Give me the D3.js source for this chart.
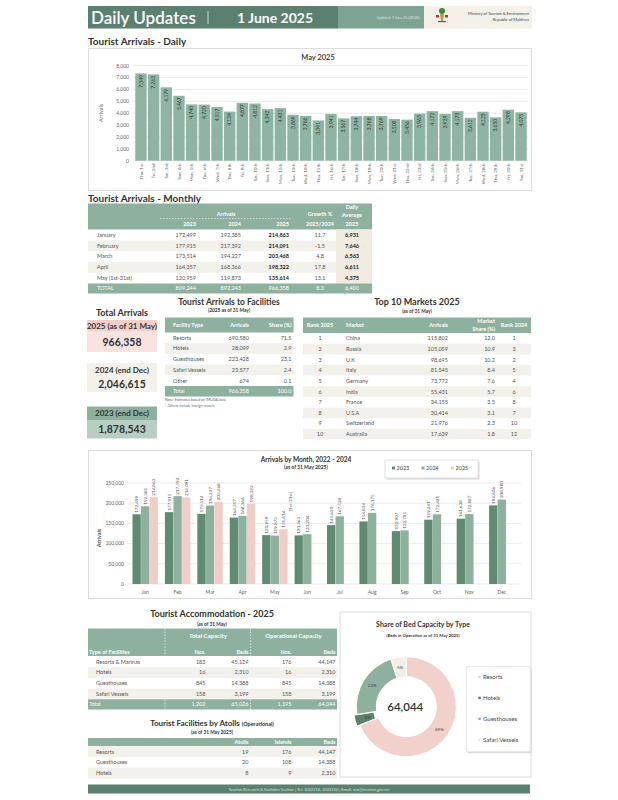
<!DOCTYPE html>
<html><head><meta charset="utf-8">
<script src="https://cdn.jsdelivr.net/npm/d3@7"></script>
<style>body{margin:0;background:#fff}svg{display:block;font-family:Lato,"Open Sans",sans-serif}</style>
</head><body><svg id="c" width="618" height="800"></svg>
<script>
// ---------------- DATA ----------------
const dailyLabels = ["Thu, 1st","Fri, 2nd","Sat, 3rd","Sun, 4th","Mon, 5th","Tue, 6th","Wed, 7th","Thu, 8th","Fri, 9th","Sat, 10th","Sun, 11th","Mon, 12th","Tue, 13th","Wed, 14th","Thu, 15th","Fri, 16th","Sat, 17th","Sun, 18th","Mon, 19th","Tue, 20th","Wed, 21st","Thu, 22nd","Fri, 23rd","Sat, 24th","Sun, 25th","Mon, 26th","Tue, 27th","Wed, 28th","Thu, 29th","Fri, 30th","Sat, 31st"];
const dailyValues = [7349,7263,6179,5467,4740,4720,4517,4134,4877,4812,4342,4431,3869,3766,3391,3941,3567,3744,3768,3769,3508,3456,3963,4172,3939,4173,3612,4123,3650,4298,4075];
const dailyTicks = [0,1000,2000,3000,4000,5000,6000,7000,8000];

const monthRows = ["January","February","March","April","May (1st-31st)"];
const mon2023 = [172499,177915,173514,164357,120959];
const mon2024 = [192385,217392,194227,168366,119873];
const mon2025 = [214863,214091,203468,198322,135614];
const monGrowth = ["11.7","-1.5","4.8","17.8","13.1"];
const monDailyAvg = [6931,7646,6563,6611,4375];
const monTotals = ["TOTAL","809,244","892,243","966,358","8.3","6,400"];

const totalBlocks = ["2025 (as of 31 May)","2024 (end Dec)","2023 (end Dec)"];
const totalValues = [966358,2046615,1878543];

const facilityTypes = ["Resorts","Hotels","Guesthouses","Safari Vessels","Other"];
const facilityArrivals = [690580,28099,223428,23577,674];
const facilityShare = ["71.5","2.9","23.1","2.4","0.1"];
const facilityTotal = ["Total","966,358","100.0"];

const marketRank2025 = [1,2,3,4,5,6,7,8,9,10];
const marketNames = ["China","Russia","U.K","Italy","Germany","India","France","U.S.A","Switzerland","Australia"];
const marketArrivals = [115802,105059,98695,81545,73772,55431,34155,30414,21976,17639];
const marketShare = ["12.0","10.9","10.2","8.4","7.6","5.7","3.5","3.1","2.3","1.8"];
const marketRank2024 = [1,3,2,5,4,6,8,7,10,12];

const months = ["Jan","Feb","Mar","Apr","May","Jun","Jul","Aug","Sep","Oct","Nov","Dec"];
const years = ["2023","2024","2025"];
const arr2023 = [172499,177915,173514,164357,120959,120363,145620,154834,130907,159241,161638,194606];
const arr2024 = [192385,217392,194227,168366,119873,123204,167528,176175,132795,172421,172987,208980];
const arr2025 = [214863,214091,203468,198322,135614,null,null,null,null,null,null,null];
const monthlyTicks = [0,50000,100000,150000,200000,250000];

const accTypes = ["Resorts & Marinas","Hotels","Guesthouses","Safari Vessels"];
const accTotalNos = [183,16,845,158];
const accTotalBeds = [45129,2310,14388,3199];
const accOpNos = [176,16,845,158];
const accOpBeds = [44147,2310,14388,3199];
const accTotals = ["Total","1,202","65,026","1,195","64,044"];

const atollTypes = ["Resorts","Guesthouses","Hotels"];
const atollCounts = [19,20,8];
const atollIslands = [176,108,9];
const atollBeds = [44147,14388,2310];

const bedTypes = ["Resorts","Hotels","Guesthouses","Safari Vessels"];
const bedValues = [44147,2310,14388,3199];
const bedTotal = 64044;

// ---------------- STYLE ----------------
const DARK = "#5b806f", MID = "#8db09f", D23 = "#5f8a76", PINK = "#f2cdc7", SHADE = "#f3f1eb", TXT = "#555", HEAD = "#333";
const fmt = d3.format(",");
const svg = d3.select("#c");
svg.append("rect").attr("width",618).attr("height",800).attr("fill","#fff");

function T(p, x, y, s, o = {}) {
  const t = p.append("text").attr("x", x).attr("y", y).text(s)
    .attr("font-size", o.size || 5.5).attr("fill", o.fill || TXT)
    .attr("text-anchor", o.anchor || "start");
  if (o.weight) t.attr("font-weight", o.weight);
  return t;
}
function R(p, x, y, w, h, fill, stroke) {
  return p.append("rect").attr("x", x).attr("y", y).attr("width", w).attr("height", h)
    .attr("fill", fill || "none").attr("stroke", stroke || "none");
}
// generic row renderer: rows = array of arrays of strings, cols = [{x, anchor, weight}]
function drawRows(p, rows, cols, y0, rh, shadeFn, size) {
  const g = p.append("g");
  rows.forEach((r, i) => {
    const yc = y0 + rh * i + rh / 2;
    cols.forEach((c, j) => {
      T(g, c.x, yc + (size || 5.5) * 0.35, r[j], {anchor: c.anchor, weight: c.weight, size: size || 5.5, fill: c.fill || TXT});
    });
  });
  return g;
}

// ---------------- HEADER ----------------
R(svg, 88, 6, 250, 22.5, DARK);
T(svg, 91, 23.5, "Daily Updates", {size: 17, fill: "#fff", weight: 600});
svg.append("line").attr("x1", 208).attr("x2", 208).attr("y1", 11).attr("y2", 24).attr("stroke", "#c9d8d0").attr("stroke-width", 1);
T(svg, 275, 22.5, "1 June 2025", {size: 14, fill: "#fff", weight: 700, anchor: "middle"});
R(svg, 338, 6, 86, 22.5, "#7fa393");
T(svg, 398, 18.5, "Updated: 1 June 25 (09:00)", {size: 3.6, fill: "#d6e4dc", anchor: "middle"});
R(svg, 424, 6, 108, 22.5, "#f3f1ea");
// small emblem
const logo = svg.append("g").attr("transform", "translate(442,16)");
logo.append("circle").attr("cx", 0).attr("cy", -5).attr("r", 3).attr("fill", "#3f8a3c");
logo.append("path").attr("d", "M-2,-2 L2,-2 L1,5 L-1,5 Z").attr("fill", "#b89b3c");
logo.append("rect").attr("x", -6).attr("y", -1).attr("width", 3).attr("height", 2.5).attr("fill", "#c8302c");
logo.append("rect").attr("x", 3).attr("y", -1).attr("width", 3).attr("height", 2.5).attr("fill", "#c8302c");
logo.append("rect").attr("x", -4).attr("y", 5).attr("width", 8).attr("height", 1.2).attr("fill", "#7a5a2a");
T(svg, 529, 14.5, "Ministry of Tourism & Environment", {size: 4, fill: "#444", anchor: "end"});
T(svg, 529, 20.5, "Republic of Maldives", {size: 4, fill: "#444", anchor: "end"});

// ---------------- DAILY CHART ----------------
T(svg, 88, 45, "Tourist Arrivals - Daily", {size: 10, fill: HEAD, weight: 700});
R(svg, 88.5, 48.5, 443, 142, "#fff", "#dcdcdc");
T(svg, 318, 60, "May 2025", {size: 7.5, fill: "#333", weight: 600, anchor: "middle"});
const dy = d3.scaleLinear().domain([0, 8000]).range([160.7, 65.7]);
const dx = d3.scaleBand().domain(dailyLabels).range([134, 528]).padding(0.1);
const dG = svg.append("g");
dG.selectAll("line.g").data(dailyTicks).join("line").attr("x1", 133).attr("x2", 528)
  .attr("y1", d => dy(d)).attr("y2", d => dy(d)).attr("stroke", "#e3e3e3").attr("stroke-width", 0.7);
dG.selectAll("text.yt").data(dailyTicks).join("text").attr("x", 129).attr("y", d => dy(d) + 1.8)
  .attr("text-anchor", "end").attr("font-size", 5).attr("fill", "#666").text(d => fmt(d));
T(svg, 0, 0, "Arrivals", {size: 5.5, fill: "#666", anchor: "middle"}).attr("transform", "translate(103,113) rotate(-90)");
dG.selectAll("rect.b").data(dailyValues).join("rect")
  .attr("x", (d, i) => dx(dailyLabels[i])).attr("width", dx.bandwidth())
  .attr("y", d => dy(d)).attr("height", d => dy(0) - dy(d)).attr("fill", "#8fb4a3");
dG.selectAll("text.v").data(dailyValues).join("text")
  .attr("transform", (d, i) => `translate(${dx(dailyLabels[i]) + dx.bandwidth() / 2},${dy(d) + 1.5}) rotate(-90)`)
  .attr("dy", "0.35em").attr("text-anchor", "end").attr("font-size", 5).attr("fill", "#2f3f38").text(d => fmt(d));
dG.selectAll("text.x").data(dailyLabels).join("text")
  .attr("transform", d => `translate(${dx(d) + dx.bandwidth() / 2},163.5) rotate(-90)`)
  .attr("dy", "0.35em").attr("text-anchor", "end").attr("font-size", 4.5).attr("fill", "#666").text(d => d);

// ---------------- MONTHLY TABLE ----------------
T(svg, 88, 202, "Tourist Arrivals - Monthly", {size: 10, fill: HEAD, weight: 700});
const mT = svg.append("g");
R(mT, 88, 203.5, 284, 26, MID);
T(mT, 226, 215.5, "Arrivals", {size: 5.5, fill: "#fff", weight: 700, anchor: "middle"});
mT.append("line").attr("x1", 160).attr("x2", 292).attr("y1", 218.5).attr("y2", 218.5).attr("stroke", "#fff").attr("stroke-dasharray", "1.5,1.5").attr("stroke-width", 0.6);
[["2023", 196], ["2024", 241], ["2025", 289]].forEach(([s, x]) => T(mT, x, 225.5, s, {size: 5.5, fill: "#fff", weight: 700, anchor: "end"}));
T(mT, 320, 215.5, "Growth %", {size: 5.5, fill: "#fff", weight: 700, anchor: "middle"});
T(mT, 320, 225.5, "2025/2024", {size: 5.5, fill: "#fff", weight: 700, anchor: "middle"});
T(mT, 352, 208.5, "Daily", {size: 5.5, fill: "#fff", weight: 700, anchor: "middle"});
T(mT, 352, 217, "Average", {size: 5.5, fill: "#fff", weight: 700, anchor: "middle"});
T(mT, 352, 225.5, "2025", {size: 5.5, fill: "#fff", weight: 700, anchor: "middle"});
const mrh = 10.8, my0 = 229.5;
monthRows.forEach((m, i) => { if (i % 2 === 1) R(mT, 88, my0 + i * mrh, 284, mrh, SHADE); });
R(mT, 336, my0, 36, mrh * 5, "#efebe0");
drawRows(mT, monthRows.map((m, i) => [m, fmt(mon2023[i]), fmt(mon2024[i]), fmt(mon2025[i]), monGrowth[i], fmt(monDailyAvg[i])]),
  [{x: 97}, {x: 196, anchor: "end"}, {x: 241, anchor: "end"}, {x: 289, anchor: "end", weight: 700, fill: "#222"}, {x: 320, anchor: "middle"}, {x: 352, anchor: "middle", weight: 700, fill: "#222"}],
  my0, mrh);
R(mT, 88, my0 + 5 * mrh, 284, 10, MID);
drawRows(mT, [monTotals], [{x: 97, fill: "#fff"}, {x: 196, anchor: "end", fill: "#fff"}, {x: 241, anchor: "end", fill: "#fff"}, {x: 289, anchor: "end", fill: "#fff"}, {x: 320, anchor: "middle", fill: "#fff"}, {x: 352, anchor: "middle", fill: "#fff"}],
  my0 + 5 * mrh, 10);

// ---------------- TOTAL ARRIVALS ----------------
const tA = svg.append("g");
T(tA, 122, 315.5, "Total Arrivals", {size: 9, fill: HEAD, weight: 700, anchor: "middle"});
const blockY = [[320, 331.5, 352], [363, 376, 392], [406.5, 420, 438.5]];
const blockTop = ["#f4cfca", "#f3f1ea", MID], blockBot = ["#f9e3e0", "#f3f1ea", "#b7cfc3"];
totalBlocks.forEach((b, i) => {
  const [y0, y1, y2] = blockY[i];
  R(tA, 87, y0, 70, y1 - y0, blockTop[i]);
  R(tA, 87, y1, 70, y2 - y1, blockBot[i]);
  T(tA, 122, (y0 + y1) / 2 + 3, b, {size: 8, fill: HEAD, weight: 700, anchor: "middle"});
  T(tA, 122, (y1 + y2) / 2 + 3.8, fmt(totalValues[i]), {size: 10.5, fill: HEAD, weight: 700, anchor: "middle"});
});

// ---------------- FACILITIES TABLE ----------------
const fT = svg.append("g");
T(fT, 229, 305, "Tourist Arrivals to Facilities", {size: 8.5, fill: HEAD, weight: 700, anchor: "middle"});
T(fT, 229, 312, "(2025 as of 31 May)", {size: 4.8, fill: HEAD, weight: 700, anchor: "middle"});
R(fT, 165, 317.5, 128.5, 15, MID);
T(fT, 173, 327, "Facility Type", {size: 5.5, fill: "#fff", weight: 700});
T(fT, 249, 327, "Arrivals", {size: 5.5, fill: "#fff", weight: 700, anchor: "end"});
T(fT, 291.5, 327, "Share (%)", {size: 5.5, fill: "#fff", weight: 700, anchor: "end"});
const frh = 10.7, fy0 = 332.5;
facilityTypes.forEach((f, i) => { if (i % 2 === 1) R(fT, 165, fy0 + i * frh, 128.5, frh, SHADE); });
drawRows(fT, facilityTypes.map((f, i) => [f, fmt(facilityArrivals[i]), facilityShare[i]]),
  [{x: 173}, {x: 249, anchor: "end"}, {x: 291.5, anchor: "end"}], fy0, frh);
R(fT, 165, fy0 + 5 * frh, 128.5, 10.5, MID);
drawRows(fT, [facilityTotal], [{x: 173, fill: "#fff"}, {x: 249, anchor: "end", fill: "#fff"}, {x: 291.5, anchor: "end", fill: "#fff"}], fy0 + 5 * frh, 10.5);
T(fT, 165, 401, "Note: Estimates based on IMUGA data", {size: 3.6, fill: "#666"});
T(fT, 165, 406.5, "* Others include foreign vessels", {size: 3.6, fill: "#666"});

// ---------------- TOP 10 MARKETS ----------------
const kT = svg.append("g");
T(kT, 417, 305, "Top 10 Markets 2025", {size: 9, fill: HEAD, weight: 700, anchor: "middle"});
T(kT, 417, 312.5, "(as of 31 May)", {size: 4.8, fill: HEAD, weight: 700, anchor: "middle"});
R(kT, 303, 317.5, 228, 15.5, MID);
T(kT, 320, 327, "Rank 2025", {size: 5.5, fill: "#fff", weight: 700, anchor: "middle"});
T(kT, 346, 327, "Market", {size: 5.5, fill: "#fff", weight: 700});
T(kT, 448, 327, "Arrivals", {size: 5.5, fill: "#fff", weight: 700, anchor: "end"});
T(kT, 495, 323, "Market", {size: 5.5, fill: "#fff", weight: 700, anchor: "end"});
T(kT, 495, 330.5, "Share (%)", {size: 5.5, fill: "#fff", weight: 700, anchor: "end"});
T(kT, 514, 327, "Rank 2024", {size: 5.5, fill: "#fff", weight: 700, anchor: "middle"});
const krh = 10.65, ky0 = 333;
marketNames.forEach((m, i) => { if (i % 2 === 1) R(kT, 303, ky0 + i * krh, 228, krh, SHADE); });
drawRows(kT, marketNames.map((m, i) => [String(marketRank2025[i]), m, fmt(marketArrivals[i]), marketShare[i], String(marketRank2024[i])]),
  [{x: 320, anchor: "middle"}, {x: 346}, {x: 448, anchor: "end"}, {x: 495, anchor: "end"}, {x: 514, anchor: "middle"}], ky0, krh);

// ---------------- ARRIVALS BY MONTH CHART ----------------
const bG = svg.append("g");
R(bG, 88.5, 450.5, 443, 148, "#fff", "#dcdcdc");
T(bG, 306, 461.5, "Arrivals by Month, 2022 - 2024", {size: 6.5, fill: "#333", weight: 700, anchor: "middle"});
T(bG, 306, 469, "(as of 31 May 2025)", {size: 5, fill: "#333", weight: 700, anchor: "middle"});
const my = d3.scaleLinear().domain([0, 250000]).range([584, 483]);
const mx = d3.scaleBand().domain(months).range([129, 518]).paddingInner(0.2).paddingOuter(0.1);
const mxi = d3.scaleBand().domain(years).range([0, mx.bandwidth()]).padding(0.03);
bG.selectAll("line.g").data(monthlyTicks).join("line").attr("x1", 127).attr("x2", 521)
  .attr("y1", d => my(d)).attr("y2", d => my(d)).attr("stroke", "#e3e3e3").attr("stroke-width", 0.7);
bG.selectAll("text.yt").data(monthlyTicks).join("text").attr("x", 124).attr("y", d => my(d) + 1.8)
  .attr("text-anchor", "end").attr("font-size", 5).attr("fill", "#666").text(d => fmt(d));
T(bG, 0, 0, "Arrivals", {size: 5.5, fill: "#444", anchor: "middle", weight: 600}).attr("transform", "translate(101,538) rotate(-90)");
const seriesVals = {"2023": arr2023, "2024": arr2024, "2025": arr2025};
const seriesCol = {"2023": D23, "2024": MID, "2025": PINK};
years.forEach(yr => {
  const vals = seriesVals[yr];
  const pts = months.map((m, i) => ({m, v: vals[i]})).filter(d => d.v != null);
  bG.selectAll(null).data(pts).join("rect")
    .attr("x", d => mx(d.m) + mxi(yr)).attr("width", mxi.bandwidth())
    .attr("y", d => my(d.v)).attr("height", d => my(0) - my(d.v)).attr("fill", seriesCol[yr]);
  bG.selectAll(null).data(pts).join("text")
    .attr("transform", d => `translate(${mx(d.m) + mxi(yr) + mxi.bandwidth() / 2},${my(d.v) - 1.5}) rotate(-90)`)
    .attr("dy", "0.35em").attr("font-size", 4.6).attr("fill", "#555").text(d => fmt(d.v));
});
// May 2025 note
T(bG, 0, 0, "(1st-31st)", {size: 4.6, fill: "#555"}).attr("transform", `translate(${mx("May") + mxi("2025") + mxi.bandwidth() + 3},${my(arr2025[4]) - 18}) rotate(-90)`).attr("dy", "0.35em");
bG.selectAll("text.mx").data(months).join("text").attr("x", d => mx(d) + mx.bandwidth() / 2).attr("y", 593.5)
  .attr("text-anchor", "middle").attr("font-size", 5).attr("fill", "#666").text(d => d);
// legend
R(bG, 386.5, 461.5, 93, 18, "#d6d6d6");
R(bG, 385, 460, 93, 18, "#fff", "#e2e2e2");
years.forEach((yr, i) => {
  const lx = 392 + i * 29.5;
  R(bG, lx, 466.5, 3, 3, seriesCol[yr]);
  T(bG, lx + 4.5, 470, yr, {size: 5.5, fill: "#444"});
});

// ---------------- ACCOMMODATION TABLE ----------------
const aT = svg.append("g");
T(aT, 212, 617, "Tourist Accommodation - 2025", {size: 9, fill: HEAD, weight: 700, anchor: "middle"});
T(aT, 212, 625.5, "(as of 31 May)", {size: 4.8, fill: HEAD, weight: 700, anchor: "middle"});
R(aT, 88, 628.5, 249, 27.5, MID);
T(aT, 208, 638, "Total Capacity", {size: 6, fill: "#fff", weight: 700, anchor: "middle"});
T(aT, 293.5, 638, "Operational Capacity", {size: 6, fill: "#fff", weight: 700, anchor: "middle"});
T(aT, 89, 653.5, "Type of Facilities", {size: 5.5, fill: "#fff", weight: 700});
[["Nos.", 205.5], ["Beds", 248.5], ["Nos.", 291.5], ["Beds", 335.5]].forEach(([s, x]) => T(aT, x, 653.5, s, {size: 5.5, fill: "#fff", weight: 700, anchor: "end"}));
[165, 250.5].forEach(x => aT.append("line").attr("x1", x).attr("x2", x).attr("y1", 628.5).attr("y2", 709.5)
  .attr("stroke", "#fff").attr("stroke-dasharray", "1.5,1.5").attr("stroke-width", 0.7));
const arh = 10.7, ay0 = 656.5;
accTypes.forEach((a, i) => { if (i % 2 === 1) R(aT, 88, ay0 + i * arh, 249, arh, SHADE); });
drawRows(aT, accTypes.map((a, i) => [a, fmt(accTotalNos[i]), fmt(accTotalBeds[i]), fmt(accOpNos[i]), fmt(accOpBeds[i])]),
  [{x: 96}, {x: 205.5, anchor: "end"}, {x: 248.5, anchor: "end"}, {x: 291.5, anchor: "end"}, {x: 335.5, anchor: "end"}], ay0, arh);
R(aT, 88, ay0 + 4 * arh, 249, 10.2, MID);
drawRows(aT, [accTotals], [{x: 89, fill: "#fff"}, {x: 205.5, anchor: "end", fill: "#fff"}, {x: 248.5, anchor: "end", fill: "#fff"}, {x: 291.5, anchor: "end", fill: "#fff"}, {x: 335.5, anchor: "end", fill: "#fff"}], ay0 + 4 * arh, 10.2);
// redraw dashed separators over total
[165, 250.5].forEach(x => aT.append("line").attr("x1", x).attr("x2", x).attr("y1", ay0 + 4 * arh).attr("y2", ay0 + 4 * arh + 10.2)
  .attr("stroke", "#fff").attr("stroke-dasharray", "1.5,1.5").attr("stroke-width", 0.7));

// ---------------- ATOLLS TABLE ----------------
const tT = svg.append("g");
const tt = T(tT, 212, 726, "Tourist Facilities by Atolls ", {size: 8, fill: HEAD, weight: 700, anchor: "middle"});
tt.append("tspan").attr("font-size", 5.5).text("(Operational)");
T(tT, 212, 734, "(as of 31 May 2025)", {size: 4.8, fill: HEAD, weight: 700, anchor: "middle"});
R(tT, 88, 738, 249, 8, MID);
[["Atolls", 248.5], ["Islands", 291.5], ["Beds", 335.5]].forEach(([s, x]) => T(tT, x, 744, s, {size: 5.5, fill: "#fff", weight: 700, anchor: "end"}));
const trh = 10.7, ty0 = 746.3;
atollTypes.forEach((a, i) => { if (i !== 1) R(tT, 88, ty0 + i * trh, 249, trh, SHADE); });
drawRows(tT, atollTypes.map((a, i) => [a, String(atollCounts[i]), String(atollIslands[i]), fmt(atollBeds[i])]),
  [{x: 96}, {x: 248.5, anchor: "end"}, {x: 291.5, anchor: "end"}, {x: 335.5, anchor: "end"}], ty0, trh);

// ---------------- DONUT ----------------
const pG = svg.append("g");
R(pG, 340, 612, 191, 165, "#fff", "#dcdcdc");
T(pG, 423, 627, "Share of Bed Capacity by Type", {size: 7, fill: HEAD, weight: 700, anchor: "middle"});
T(pG, 423, 636.5, "(Beds in Operation as of 31 May 2025)", {size: 4.3, fill: HEAD, weight: 700, anchor: "middle"});
const pieCol = {"Resorts": "#f2d0cb", "Hotels": DARK, "Guesthouses": MID, "Safari Vessels": "#f1eee6"};
const pie = d3.pie().sort(null).value(d => d.v)(bedTypes.map((t, i) => ({t, v: bedValues[i]})));
const arc = d3.arc().innerRadius(30).outerRadius(50);
const cx = 406.3, cy = 706.7;
const dn = pG.append("g").attr("transform", `translate(${cx},${cy})`);
dn.selectAll("path").data(pie).join("path")
  .attr("d", arc)
  .attr("transform", d => {
    if (d.data.t !== "Hotels") return null;
    const a = (d.startAngle + d.endAngle) / 2;
    return `translate(${Math.sin(a) * 3},${-Math.cos(a) * 3})`;
  })
  .attr("fill", d => pieCol[d.data.t]).attr("stroke", "#fff").attr("stroke-width", 1);
dn.selectAll("text").data(pie).join("text")
  .attr("x", d => arc.centroid(d)[0]).attr("y", d => arc.centroid(d)[1] + 1.5)
  .attr("text-anchor", "middle").attr("font-size", 4.5).attr("fill", "#444")
  .text(d => Math.round(d.data.v / bedTotal * 100) + "%");
T(pG, cx - 1, cy + 4, fmt(bedTotal), {size: 11.5, fill: "#333", weight: 600, anchor: "middle"});
R(pG, 467.8, 668.2, 64, 85, "#d8d8d8");
R(pG, 466.3, 666.7, 64, 85, "#fff", "#e6e6e6");
bedTypes.forEach((t, i) => {
  const ly = 677.3 + i * 20.9;
  R(pG, 478.3, ly - 1.5, 2.5, 2.5, pieCol[t]);
  T(pG, 483, ly + 2, t, {size: 6, fill: "#444"});
});

// ---------------- FOOTER ----------------
R(svg, 88, 784.5, 442, 9, DARK);
T(svg, 309, 790.8, "Tourism Research & Statistics Section  |  Tel: 3022216, 3022250  |  Email: stat@tourism.gov.mv", {size: 4, fill: "#d4e3da", anchor: "middle"});
</script></body></html>
